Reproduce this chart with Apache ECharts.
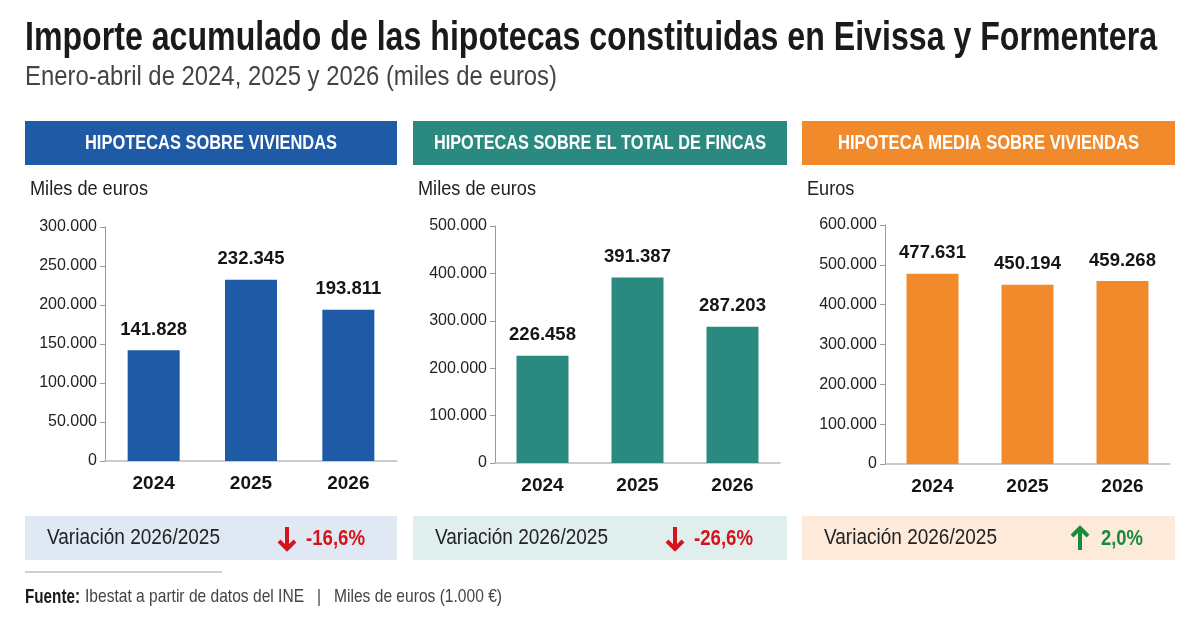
<!DOCTYPE html>
<html><head><meta charset="utf-8">
<script src="https://cdn.jsdelivr.net/npm/echarts@6/dist/echarts.min.js"></script>
<style>html,body{margin:0;padding:0;background:#fff}#c{width:1200px;height:630px}</style>
</head><body><div id="c"></div>
<script>
const years = ['2024', '2025', '2026'];
const viviendas = [141828, 232345, 193811];
const fincas = [226458, 391387, 287203];
const media = [477631, 450194, 459268];
const panelTitles = ['HIPOTECAS SOBRE VIVIENDAS', 'HIPOTECAS SOBRE EL TOTAL DE FINCAS', 'HIPOTECA MEDIA SOBRE VIVIENDAS'];
const unitLabels = ['Miles de euros', 'Miles de euros', 'Euros'];
const variationLabel = 'Variación 2026/2025';
const variations = ['-16,6%', '-26,6%', '2,0%'];
const yMax = [300000, 500000, 600000];
const yStep = [50000, 100000, 100000];
const titleText = 'Importe acumulado de las hipotecas constituidas en Eivissa y Formentera';
const subtitleText = 'Enero-abril de 2024, 2025 y 2026 (miles de euros)';
const sourceLead = 'Fuente:';
const sourceText = 'Ibestat a partir de datos del INE   |   Miles de euros (1.000 €)';

const F = '"Liberation Sans", Arial, sans-serif';
const fmt = v => String(v).replace(/\B(?=(\d{3})+(?!\d))/g, '.');

const mctx = document.createElement('canvas').getContext('2d');
function sx(font, txt, target) { mctx.font = font; return target / mctx.measureText(txt).width; }

const colors = ['#1f5aa6', '#2a8a80', '#f08a2b'];
const boxColors = ['#dfe8f3', '#e0eeed', '#fdeadb'];
const panelX = [25, 413, 802];
const panelW = [372, 374, 373];
const headerTextW = [252, 332, 301];
const valueTextW = [59, 59, 42];
const grids = [
  {left: 105, top: 227, width: 292, height: 234},
  {left: 495, top: 226, width: 285, height: 237},
  {left: 885, top: 225, width: 285, height: 239}
];
const seriesData = [viviendas, fincas, media];

const chart = echarts.init(document.getElementById('c'), null, {renderer: 'canvas'});

function ctext(x, y, text, font, fill, target, align, scaleOverride) {
  const s = scaleOverride || sx(font, text, target);
  return {type: 'text', x: x, y: y, scaleX: s, scaleY: 1, z: 10,
    style: {text: text, font: font, fill: fill, align: align || 'left', verticalAlign: 'middle'}};
}

const fT = 'bold 41px ' + F, fS = '27px ' + F;
const graphic = [
  ctext(25, 39, titleText, fT, '#1a1a1a', 1132),
  ctext(25, 78, subtitleText, fS, '#444444', 532),
  {type: 'line', shape: {x1: 25, y1: 572, x2: 222, y2: 572}, style: {stroke: '#d0d0d0', lineWidth: 2}},
  ctext(25, 597, sourceLead, '600 20px ' + F, '#1a1a1a', 55),
  ctext(85, 597, sourceText, '19px ' + F, '#444444', 417)
];

const fU = '21px ' + F;
const unitScale = sx(fU, 'Miles de euros', 118);
const fV = '22px ' + F;
const fVal = 'bold 22px ' + F;
for (let i = 0; i < 3; i++) {
  const x = panelX[i], w = panelW[i];
  graphic.push({type: 'rect', shape: {x: x, y: 121, width: w, height: 44}, style: {fill: colors[i]}});
  graphic.push(ctext(x + w / 2, 143, panelTitles[i], 'bold 21px ' + F, '#ffffff', headerTextW[i], 'center'));
  graphic.push(ctext(x + 5, 189, unitLabels[i], fU, '#222222', 0, 'left', unitScale));
  graphic.push({type: 'rect', shape: {x: x, y: 516, width: w, height: 44}, style: {fill: boxColors[i]}});
  graphic.push(ctext(x + 22, 538, variationLabel, fV, '#222222', 173));
  const up = variations[i].charAt(0) !== '-';
  const ac = up ? '#1a8a3e' : '#d3141c';
  const ax = x + (up ? 278 : 262);
  const tip = up ? 527 : 550, tail = up ? 550 : 527;
  const dir = up ? 1 : -1;
  graphic.push({type: 'line', shape: {x1: ax, y1: tail, x2: ax, y2: tip + dir * 3}, style: {stroke: ac, lineWidth: 4}});
  graphic.push({type: 'polyline', shape: {points: [[ax - 8, tip + dir * 9], [ax, tip + dir * 1], [ax + 8, tip + dir * 9]]}, style: {stroke: ac, lineWidth: 4, fill: null, lineJoin: 'miter', lineCap: 'butt'}});
  graphic.push(ctext(x + (up ? 299 : 281), 539, variations[i], fVal, ac, valueTextW[i]));
}

const option = {
  backgroundColor: '#ffffff',
  animation: false,
  grid: grids,
  xAxis: grids.map((g, i) => ({
    type: 'category', gridIndex: i, data: years,
    axisLine: {lineStyle: {color: '#bbbbbb', width: 1.5}},
    axisTick: {show: false},
    axisLabel: {fontFamily: F, fontWeight: 'bold', fontSize: 19, color: '#151515', margin: 13}
  })),
  yAxis: grids.map((g, i) => ({
    type: 'value', gridIndex: i, min: 0, max: yMax[i], interval: yStep[i],
    axisLine: {show: true, lineStyle: {color: '#9a9a9a', width: 1}},
    axisTick: {show: true, length: 5, lineStyle: {color: '#9a9a9a'}},
    splitLine: {show: false},
    axisLabel: {fontFamily: F, fontSize: 16, color: '#222', margin: 8, formatter: v => fmt(v)}
  })),
  series: seriesData.map((d, i) => ({
    type: 'bar', xAxisIndex: i, yAxisIndex: i, data: d, barWidth: 52,
    itemStyle: {color: colors[i]},
    label: {show: true, position: 'top', distance: 11, fontFamily: F, fontWeight: 'bold', fontSize: 18.5, color: '#151515', formatter: p => fmt(p.value)}
  })),
  graphic: graphic
};
chart.setOption(option);
</script></body></html>
